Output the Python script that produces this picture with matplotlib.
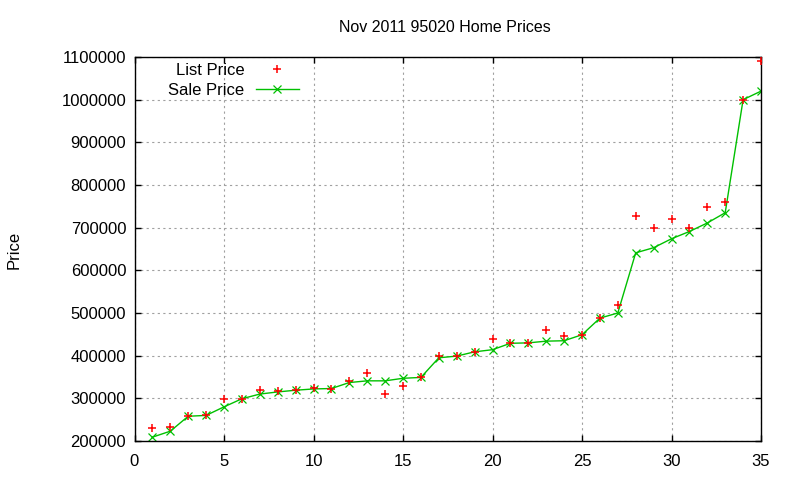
import numpy as np
import matplotlib
matplotlib.use('Agg')
import matplotlib.pyplot as plt

# home index (sorted by sale price) and prices
home_no = list(range(1, 36))
list_price = [230000, 233000, 258000, 260000, 299000, 299000, 319000, 318000,
              319000, 325000, 323000, 341000, 359000, 309000, 328000, 349000,
              400000, 399000, 409000, 438000, 430000, 430000, 459000, 446000,
              449000, 488000, 519000, 727000, 699000, 720000, 699000, 748000,
              760000, 999000, 1090000]
sale_price = [209000, 223000, 258000, 260000, 280000, 299000, 310000, 315000,
              319000, 322000, 323000, 337000, 341000, 341000, 347000, 349000,
              395000, 399000, 409000, 414000, 429000, 430000, 434000, 435000,
              449000, 488000, 500000, 641000, 653000, 674000, 691000, 711000,
              735000, 1000000, 1020000]

x_ticks = [0, 5, 10, 15, 20, 25, 30, 35]
y_ticks = list(range(200000, 1100001, 100000))

plt.rcParams['font.family'] = ['Liberation Sans', 'DejaVu Sans']
fs = 12

fig = plt.figure(figsize=(8, 4.8), dpi=100)
ax = fig.add_axes([134.5 / 800, 1 - 441 / 480, (761 - 134.5) / 800, 384 / 480])

ax.plot(home_no, list_price, linestyle='none', marker='+', color='#ff0000',
        markersize=6, markeredgewidth=1.1, label='List Price', zorder=3)
ax.plot(home_no, sale_price, linestyle='-', marker='x', color='#00c000',
        markersize=5.5, markeredgewidth=0.9, linewidth=1.0, label='Sale Price', zorder=2)

ax.set_xlim(0, 35)
ax.set_ylim(200000, 1100000)
ax.set_xticks(x_ticks)
ax.set_yticks(y_ticks)
ax.set_yticklabels([str(v) for v in y_ticks])
ax.tick_params(direction='in', length=4, width=1, top=True, right=True,
               labelsize=fs, colors='black')
ax.tick_params(axis='x', pad=9)
ax.tick_params(axis='y', pad=6)
ax.grid(True, color='#a0a0a0', linestyle=(0, (2, 3)), linewidth=0.8)
for s in ax.spines.values():
    s.set_linewidth(1.0)
    s.set_color('black')

fig.text(445 / 800, 1 - 27 / 480, 'Nov 2011 95020 Home Prices', ha='center',
         va='center', fontsize=11.5)
fig.text(14 / 800, 1 - 250 / 480, 'Price', ha='center', va='center',
         rotation=90, fontsize=fs)

ax.legend(loc='upper left', bbox_to_anchor=(168 / 800, 1 - 63 / 480),
          bbox_transform=fig.transFigure, frameon=False, markerfirst=False,
          fontsize=fs, handlelength=2.6, handletextpad=0.7, borderpad=0,
          borderaxespad=0, labelspacing=0.28)

fig.savefig('out.png', dpi=100)
